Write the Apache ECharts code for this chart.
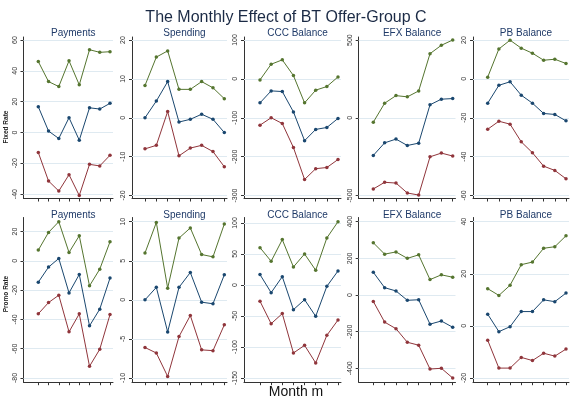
<!DOCTYPE html>
<html><head><meta charset="utf-8">
<script src="https://cdn.jsdelivr.net/npm/echarts@6/dist/echarts.min.js"></script>
<style>html,body{margin:0;padding:0;background:#fff}#c{width:572px;height:402px}</style>
</head><body><div id="c"></div>
<script>
// ---- data ----
const months = [1, 2, 3, 4, 5, 6, 7, 8];
const panelTitles = ['Payments', 'Spending', 'CCC Balance', 'EFX Balance', 'PB Balance'];
const rowLabels = ['Fixed Rate', 'Promo Rate'];
const chartTitle = 'The Monthly Effect of BT Offer-Group C';
const xAxisTitle = 'Month m';

// Fixed Rate row
const fixedPaymentsUpper = [46, 33, 29.8, 46.5, 30.9, 53.7, 52, 52.4];
const fixedPaymentsMid   = [16.7, 0.9, -3.9, 9.6, -5, 16, 15.2, 18.9];
const fixedPaymentsLower = [-13, -31.5, -38, -27.4, -40.9, -20.7, -21.7, -14.8];
const fixedSpendingUpper = [8.3, 15.6, 17.2, 7.3, 7.3, 9.3, 7.7, 4.9];
const fixedSpendingMid   = [0, 4.3, 9.3, -1.1, -0.4, 0.9, -0.4, -3.8];
const fixedSpendingLower = [-8, -7.1, 1.6, -9.8, -7.8, -7.1, -8.7, -12.6];
const fixedCCCUpper = [-2.6, 37.7, 48.9, 8.6, -61.7, -29, -19.7, 5.1];
const fixedCCCMid   = [-61.7, -30.9, -32.6, -84.9, -159, -130, -125, -101.7];
const fixedCCCLower = [-119, -100, -114.8, -176.6, -258.8, -231, -228, -207.4];
const fixedEFXUpper = [-28, 94, 143, 135, 173, 413, 467, 501];
const fixedEFXMid   = [-242, -161, -137, -178, -163, 84, 120, 124];
const fixedEFXLower = [-458, -415, -420, -484, -497, -251, -227, -246];
const fixedPBUpper = [0.9, 15.4, 19.9, 15.8, 13.2, 9.6, 10.1, 7.9];
const fixedPBMid   = [-12.5, -3.3, -1.5, -8.4, -12.5, -17.8, -18.3, -21.6];
const fixedPBLower = [-25.9, -21.8, -23.3, -32.4, -38, -44.9, -47.1, -51.4];

// Promo Rate row
const promoPaymentsUpper = [7.3, 19.4, 26.7, 5.7, 17.1, -17.1, -5.7, 13];
const promoPaymentsMid   = [-14.6, -4.3, 1.6, -21.9, -9.3, -44.4, -33, -11.8];
const promoPaymentsLower = [-36.2, -28.5, -23.5, -48.5, -36.2, -72, -60.4, -36.7];
const promoSpendingUpper = [6.0, 9.9, 1.5, 7.9, 9.2, 5.8, 5.5, 9.7];
const promoSpendingMid   = [0, 1.6, -4.1, 1.6, 3.5, -0.3, -0.5, 3.2];
const promoSpendingLower = [-6.1, -6.8, -9.8, -4.7, -2, -6.4, -6.5, -3.2];
const promoCCCUpper = [60.2, 38.2, 73.1, 29, 50, 23.7, 75.8, 102];
const promoCCCMid   = [16.7, -12.4, 13.4, -39.8, -23.7, -50.5, -2.2, 22.6];
const promoCCCLower = [-26.3, -62.4, -46.2, -109.7, -97.3, -125.8, -81.2, -56.5];
const promoEFXUpper = [285, 223, 235, 200, 219, 84, 110, 97];
const promoEFXMid   = [124, 40, 22, -29, -26, -159, -142, -176];
const promoEFXLower = [-35, -148, -184, -258, -274, -404, -400, -453];
const promoPBUpper = [14.3, 11.7, 15.6, 23.5, 24.5, 29.8, 30.4, 34.6];
const promoPBMid   = [4.5, -2.2, -0.3, 5.5, 5.5, 10, 9.3, 12.6];
const promoPBLower = [-5.5, -16.2, -16.2, -12.1, -13.3, -10.5, -11.6, -8.9];

// y tick labels
const fixedPaymentsTicks = [-40, -20, 0, 20, 40, 60];
const fixedSpendingTicks = [-20, -10, 0, 10, 20];
const fixedCCCTicks = [-300, -200, -100, 0, 100];
const fixedEFXTicks = [-500, 0, 500];
const fixedPBTicks = [-60, -40, -20, 0, 20];
const promoPaymentsTicks = [-80, -60, -40, -20, 0, 20];
const promoSpendingTicks = [-10, -5, 0, 5, 10];
const promoCCCTicks = [-150, -100, -50, 0, 50, 100];
const promoEFXTicks = [-400, -200, 0, 200, 400];
const promoPBTicks = [-20, 0, 20, 40];

const rows = [
  [
    [fixedPaymentsUpper, fixedPaymentsMid, fixedPaymentsLower, fixedPaymentsTicks],
    [fixedSpendingUpper, fixedSpendingMid, fixedSpendingLower, fixedSpendingTicks],
    [fixedCCCUpper, fixedCCCMid, fixedCCCLower, fixedCCCTicks],
    [fixedEFXUpper, fixedEFXMid, fixedEFXLower, fixedEFXTicks],
    [fixedPBUpper, fixedPBMid, fixedPBLower, fixedPBTicks]
  ],
  [
    [promoPaymentsUpper, promoPaymentsMid, promoPaymentsLower, promoPaymentsTicks],
    [promoSpendingUpper, promoSpendingMid, promoSpendingLower, promoSpendingTicks],
    [promoCCCUpper, promoCCCMid, promoCCCLower, promoCCCTicks],
    [promoEFXUpper, promoEFXMid, promoEFXLower, promoEFXTicks],
    [promoPBUpper, promoPBMid, promoPBLower, promoPBTicks]
  ]
];

// ---- layout (pixels) ----
const axisLeftX  = [23.5, 132, 244, 358.7, 473];
const firstPtX   = [38.3, 145, 260, 373.3, 487.7];
const lastPtX    = [110, 224.3, 338, 452.7, 566];
const axisRightX = [113, 227, 341, 455.5, 569];
const rowInnerTop = [40, 221.7];
const rowInnerH   = [155.5, 156.3];
const rowMargin   = [3, 4.2];
const rowTitleY   = [28, 210];
const colors = ['#55752f', '#1a476f', '#90353b'];
const gridColor = '#dfeaf1';
const axisColor = '#333';
const labelFont = '"Liberation Sans Narrow", "Liberation Sans", Arial, sans-serif';

const grids = [], xAxes = [], yAxes = [], series = [], titles = [];
titles.push({ text: chartTitle, left: 'center', top: 5,
  textStyle: { fontSize: 16, fontWeight: 'normal', color: '#1b2a45', fontFamily: 'Liberation Sans, Arial' } });

let idx = 0;
rows.forEach((row, r) => {
  row.forEach((panel, c) => {
    const [up, mid, lo, ticks] = panel;
    const all = up.concat(mid, lo);
    const hi = Math.max(Math.max(...all), ticks[ticks.length - 1]);
    const lw = Math.min(Math.min(...all), ticks[0]);
    const ppu = rowInnerH[r] / (hi - lw);
    const m = rowMargin[r];
    const s = (lastPtX[c] - firstPtX[c]) / (months.length - 1);
    grids.push({ left: axisLeftX[c], top: rowInnerTop[r] - m,
      width: axisRightX[c] - axisLeftX[c], height: rowInnerH[r] + 2 * m });
    xAxes.push({ type: 'value', gridIndex: idx,
      min: months[0] - (firstPtX[c] - axisLeftX[c]) / s,
      max: months[months.length - 1] + (axisRightX[c] - lastPtX[c]) / s,
      axisLine: { show: true, onZero: false, lineStyle: { color: axisColor, width: 1 } },
      axisTick: { show: true, customValues: months, length: 3, lineStyle: { color: axisColor } },
      axisLabel: { show: false }, splitLine: { show: false } });
    yAxes.push({ type: 'value', gridIndex: idx,
      min: lw - m / ppu, max: hi + m / ppu,
      axisLine: { show: true, onZero: false, lineStyle: { color: axisColor, width: 1 } },
      axisTick: { show: true, customValues: ticks, length: 3, lineStyle: { color: axisColor } },
      axisLabel: { show: true, customValues: ticks, rotate: 90, margin: 5,
        fontSize: 7, color: '#333', fontFamily: labelFont },
      splitLine: { show: false } });
    titles.push({ text: panelTitles[c],
      left: (axisLeftX[c] + axisRightX[c]) / 2, top: rowTitleY[r], textAlign: 'center', textVerticalAlign: 'middle',
      textStyle: { fontSize: 10, fontWeight: 'normal', color: '#1f3a68', fontFamily: 'Liberation Sans, Arial' } });
    [up, mid, lo].forEach((vals, k) => {
      const ser = { type: 'line', xAxisIndex: idx, yAxisIndex: idx,
        data: months.map((mth, i) => [mth, vals[i]]),
        symbol: 'circle', symbolSize: 3.5, showSymbol: true, silent: true, animation: false,
        lineStyle: { color: colors[k], width: 1 }, itemStyle: { color: colors[k] }, z: 3 };
      if (k === 0) {
        ser.markLine = { silent: true, symbol: ['none', 'none'], animation: false,
          label: { show: false }, lineStyle: { color: gridColor, width: 1, type: 'solid' },
          emphasis: { disabled: true }, z: 1,
          data: ticks.map(t => ({ yAxis: t })) };
      }
      series.push(ser);
    });
    idx++;
  });
});

const chart = echarts.init(document.getElementById('c'), null, { renderer: 'canvas' });
chart.setOption({
  backgroundColor: '#fff',
  animation: false,
  title: titles,
  grid: grids, xAxis: xAxes, yAxis: yAxes, series: series,
  graphic: [
    { type: 'text', x: 6, y: 127, rotation: Math.PI / 2,
      style: { text: rowLabels[0], fontSize: 6.5, fontWeight: 'bold', fill: '#222', fontFamily: labelFont,
        textAlign: 'center', textVerticalAlign: 'middle' } },
    { type: 'text', x: 6, y: 294, rotation: Math.PI / 2,
      style: { text: rowLabels[1], fontSize: 6.5, fontWeight: 'bold', fill: '#222', fontFamily: labelFont,
        textAlign: 'center', textVerticalAlign: 'middle' } },
    { type: 'text', x: 296, y: 392,
      style: { text: xAxisTitle, fontSize: 14, fill: '#111', fontFamily: 'Liberation Sans, Arial',
        textAlign: 'center', textVerticalAlign: 'middle' } }
  ]
});
</script></body></html>
